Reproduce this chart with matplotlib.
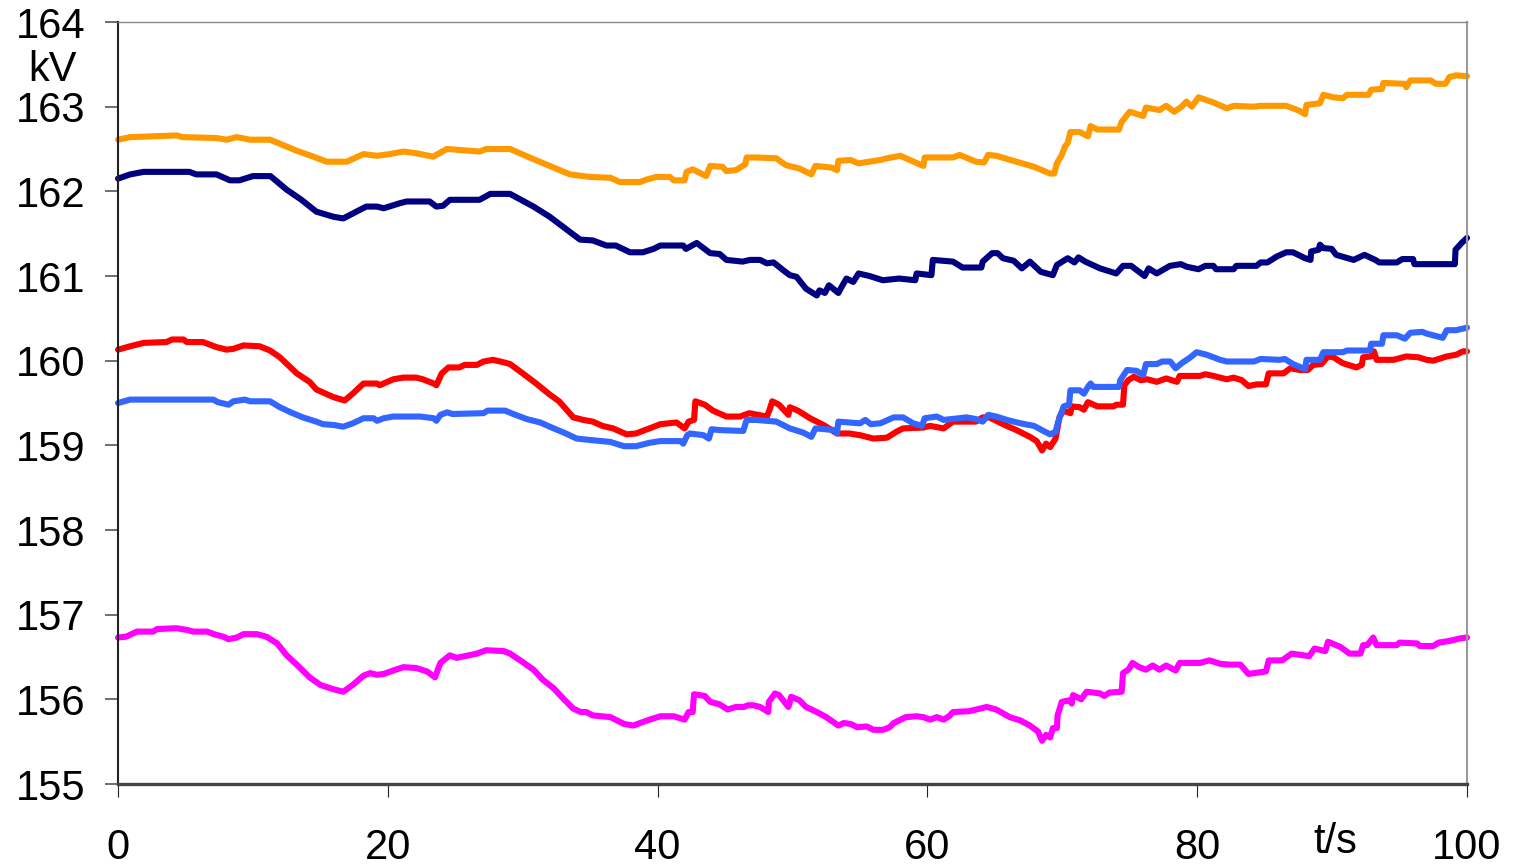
import matplotlib
matplotlib.use("Agg")
import matplotlib.pyplot as plt

# Bus voltage traces (time in s, voltage in kV)
ORANGE_TRACE = [(0,162.61),(0.9,162.64),(4.35,162.66),(4.8,162.64),(7.3,162.63),(8.05,162.61),(8.8,162.64),(9.78,162.61),(11.27,162.61),(13.24,162.48),(14.48,162.41),(15.47,162.35),(16.95,162.35),(18.2,162.44),(19.2,162.42),(20.16,162.44),(21.15,162.47),(22.1,162.45),(23.37,162.41),(24.37,162.50),(26.8,162.47),(27.3,162.50),(29.06,162.50),(30.8,162.38),(32.0,162.30),(33.5,162.20),(34.97,162.17),(36.5,162.16),(37.2,162.11),(38.7,162.11),(39.2,162.14),(39.9,162.17),(40.9,162.17),(41.2,162.13),(42.0,162.13),(42.15,162.23),(42.6,162.26),(43.6,162.18),(43.9,162.30),(44.8,162.29),(45.1,162.24),(45.8,162.25),(46.2,162.29),(46.5,162.32),(46.6,162.40),(47.3,162.40),(48.8,162.39),(49.5,162.31),(50.5,162.27),(51.4,162.20),(51.7,162.30),(52.9,162.28),(53.3,162.25),(53.4,162.36),(54.3,162.37),(54.9,162.33),(56.5,162.37),(57.0,162.39),(58.0,162.42),(58.7,162.37),(59.7,162.30),(59.8,162.40),(61.9,162.40),(62.4,162.43),(63.6,162.35),(64.2,162.34),(64.5,162.43),(65.1,162.42),(66.6,162.35),(67.9,162.29),(69.1,162.21),(69.4,162.21),(69.6,162.33),(69.96,162.43),(70.2,162.53),(70.4,162.57),(70.6,162.70),(71.3,162.70),(71.9,162.65),(72.1,162.77),(72.6,162.73),(74.2,162.73),(74.4,162.82),(75.0,162.94),(76.0,162.89),(76.2,162.99),(77.2,162.96),(77.7,163.01),(78.3,162.94),(78.85,163.00),(79.2,163.06),(79.6,163.00),(80.1,163.11),(81.2,163.05),(82.2,162.98),(82.7,163.01),(84.2,163.00),(84.7,163.01),(86.6,163.01),(87.6,162.95),(88.0,162.91),(88.1,163.02),(89.1,163.04),(89.35,163.14),(90.1,163.11),(90.8,163.10),(91.1,163.14),(92.7,163.14),(92.9,163.20),(93.7,163.21),(93.8,163.28),(95.4,163.27),(95.5,163.23),(95.8,163.31),(97.3,163.31),(97.7,163.27),(98.4,163.27),(98.7,163.35),(99.2,163.37),(100,163.36)]

NAVY_TRACE = [(0,162.15),(0.9,162.20),(1.9,162.23),(5.3,162.23),(5.8,162.20),(7.3,162.20),(8.3,162.13),(9.0,162.13),(10.0,162.18),(11.3,162.18),(12.5,162.02),(13.6,161.90),(14.7,161.76),(15.96,161.70),(16.7,161.68),(18.4,161.82),(19.2,161.82),(19.7,161.80),(20.9,161.86),(21.4,161.88),(23.1,161.88),(23.6,161.82),(24.1,161.83),(24.6,161.90),(26.8,161.90),(27.6,161.97),(29.06,161.97),(30.8,161.82),(32.0,161.70),(33.0,161.58),(34.25,161.43),(35.2,161.42),(36.2,161.36),(36.9,161.36),(37.95,161.28),(38.9,161.28),(39.7,161.32),(40.2,161.36),(41.9,161.36),(42.1,161.32),(42.9,161.39),(43.9,161.27),(44.6,161.26),(45.1,161.19),(46.3,161.17),(46.85,161.19),(47.6,161.19),(48.1,161.15),(48.6,161.16),(49.3,161.07),(49.8,161.01),(50.3,160.99),(51.0,160.85),(51.8,160.77),(52.0,160.83),(52.4,160.80),(52.7,160.89),(53.4,160.80),(53.6,160.86),(54.0,160.97),(54.5,160.93),(54.9,161.03),(55.7,161.00),(56.7,160.95),(57.9,160.97),(59.1,160.95),(59.2,161.03),(60.3,161.01),(60.4,161.19),(61.9,161.17),(62.6,161.10),(64.0,161.10),(64.1,161.17),(64.8,161.27),(65.2,161.27),(65.6,161.21),(66.4,161.18),(67.0,161.09),(67.6,161.17),(68.4,161.05),(69.3,161.01),(69.6,161.13),(70.4,161.21),(70.9,161.16),(71.2,161.22),(71.7,161.17),(72.8,161.09),(74.0,161.03),(74.5,161.12),(75.1,161.12),(76.1,161.00),(76.4,161.09),(77.0,161.03),(77.98,161.12),(78.8,161.14),(79.2,161.11),(80.1,161.08),(80.6,161.12),(81.2,161.12),(81.4,161.08),(82.7,161.08),(82.9,161.12),(84.4,161.12),(84.7,161.16),(85.2,161.16),(85.9,161.23),(86.6,161.28),(87.1,161.28),(88.0,161.21),(88.4,161.19),(88.45,161.29),(89.0,161.31),(89.1,161.37),(89.35,161.33),(89.97,161.32),(90.3,161.25),(91.6,161.19),(92.4,161.25),(93.2,161.19),(93.5,161.16),(94.8,161.16),(95.2,161.20),(96.0,161.20),(96.1,161.14),(99.1,161.14),(99.15,161.31),(99.6,161.39),(100,161.45)]

RED_TRACE = [(0,160.13),(0.9,160.17),(1.9,160.21),(3.6,160.22),(4.0,160.25),(4.85,160.25),(5.1,160.22),(6.3,160.22),(7.3,160.16),(8.05,160.13),(8.55,160.14),(9.3,160.18),(10.5,160.17),(11.27,160.12),(12.0,160.04),(13.25,159.85),(14.2,159.75),(14.7,159.66),(15.96,159.57),(16.8,159.53),(17.4,159.61),(18.2,159.73),(19.2,159.73),(19.4,159.71),(20.4,159.78),(21.15,159.80),(22.1,159.80),(22.6,159.78),(23.4,159.73),(23.6,159.71),(24.0,159.85),(24.5,159.92),(25.3,159.92),(25.7,159.95),(26.6,159.95),(27.1,159.99),(27.8,160.01),(28.6,159.98),(29.06,159.96),(30.0,159.85),(31.0,159.73),(32.0,159.60),(32.7,159.52),(33.75,159.33),(34.5,159.30),(35.2,159.28),(35.9,159.23),(36.7,159.20),(37.7,159.13),(38.4,159.14),(39.4,159.20),(40.2,159.25),(41.4,159.27),(42.0,159.20),(42.3,159.28),(42.7,159.30),(42.8,159.52),(43.5,159.48),(44.1,159.41),(45.1,159.34),(46.1,159.34),(46.8,159.38),(48.1,159.34),(48.3,159.42),(48.5,159.52),(49.0,159.48),(49.7,159.36),(49.8,159.45),(50.4,159.41),(51.3,159.32),(52.3,159.24),(53.3,159.14),(54.2,159.14),(55.0,159.12),(56.0,159.08),(57.0,159.09),(57.7,159.16),(58.2,159.20),(59.7,159.21),(60.2,159.23),(61.2,159.20),(61.9,159.28),(63.6,159.28),(64.1,159.33),(64.6,159.33),(65.6,159.25),(66.6,159.18),(67.6,159.10),(68.1,159.05),(68.5,158.94),(68.8,159.02),(69.1,158.98),(69.5,159.08),(69.8,159.34),(70.1,159.41),(70.6,159.38),(70.7,159.46),(71.3,159.45),(71.6,159.42),(71.9,159.51),(72.6,159.46),(73.8,159.46),(74.0,159.48),(74.5,159.48),(74.6,159.71),(74.9,159.77),(75.3,159.81),(75.8,159.77),(76.3,159.78),(77.0,159.75),(77.7,159.79),(78.5,159.75),(78.7,159.82),(80.2,159.82),(80.6,159.84),(81.2,159.82),(82.2,159.78),(82.7,159.80),(83.3,159.77),(83.8,159.70),(84.4,159.72),(85.1,159.72),(85.3,159.85),(86.4,159.85),(86.9,159.91),(87.6,159.89),(88.2,159.89),(88.6,159.95),(89.2,159.96),(89.7,160.05),(90.1,160.04),(90.8,159.97),(91.8,159.92),(92.2,159.95),(92.3,160.04),(92.9,160.05),(93.1,160.11),(93.3,160.01),(94.55,160.01),(95.5,160.05),(96.4,160.04),(97.0,160.01),(97.5,160.00),(98.5,160.05),(99.2,160.07),(99.7,160.11),(100,160.11)]

BLUE_TRACE = [(0,159.50),(0.9,159.54),(7.06,159.54),(7.4,159.51),(8.2,159.48),(8.55,159.52),(9.4,159.54),(9.8,159.52),(11.27,159.52),(12.0,159.45),(12.8,159.39),(13.7,159.33),(14.7,159.28),(15.2,159.25),(16.0,159.24),(16.7,159.22),(17.4,159.26),(18.2,159.32),(18.95,159.32),(19.2,159.29),(19.7,159.32),(20.4,159.34),(22.4,159.34),(23.4,159.32),(23.6,159.29),(23.9,159.36),(24.4,159.39),(24.8,159.37),(27.1,159.38),(27.4,159.41),(28.7,159.41),(29.3,159.37),(30.3,159.31),(31.3,159.27),(32.3,159.20),(33.2,159.14),(34.0,159.08),(35.2,159.06),(36.5,159.04),(37.5,158.99),(38.4,158.99),(39.4,159.03),(40.2,159.05),(41.7,159.05),(41.9,159.02),(42.2,159.12),(42.4,159.14),(43.4,159.12),(43.8,159.08),(44.0,159.19),(44.6,159.18),(46.35,159.17),(46.6,159.30),(47.3,159.30),(48.8,159.28),(49.8,159.20),(50.8,159.15),(51.4,159.10),(51.7,159.20),(53.15,159.18),(53.3,159.14),(53.4,159.28),(55.0,159.26),(55.4,159.30),(55.8,159.25),(56.5,159.26),(57.5,159.33),(58.2,159.33),(58.95,159.26),(59.6,159.23),(59.8,159.32),(60.7,159.34),(61.2,159.30),(62.9,159.33),(63.6,159.31),(64.1,159.28),(64.5,159.36),(65.1,159.34),(65.9,159.30),(66.9,159.26),(67.9,159.23),(68.6,159.17),(69.1,159.13),(69.5,159.16),(69.7,159.28),(70.1,159.46),(70.5,159.48),(70.6,159.65),(71.3,159.65),(71.6,159.61),(71.9,159.69),(72.1,159.73),(72.3,159.69),(74.2,159.69),(74.3,159.77),(74.8,159.89),(75.5,159.88),(76.0,159.83),(76.2,159.96),(77.0,159.96),(77.4,159.99),(78.0,159.99),(78.4,159.91),(78.85,159.97),(79.5,160.04),(79.96,160.10),(80.7,160.07),(81.7,160.01),(82.2,159.99),(84.2,159.99),(84.7,160.02),(86.1,160.01),(86.5,160.02),(87.1,159.96),(88.0,159.90),(88.1,160.01),(89.1,160.01),(89.35,160.10),(90.8,160.10),(91.1,160.12),(92.8,160.12),(92.9,160.20),(93.7,160.20),(93.8,160.30),(94.8,160.30),(95.4,160.26),(95.8,160.33),(96.7,160.34),(97.0,160.32),(98.2,160.27),(98.5,160.36),(99.2,160.36),(100,160.39)]

MAGENTA_TRACE = [(0,156.73),(0.6,156.74),(1.4,156.80),(2.6,156.80),(2.9,156.83),(4.35,156.84),(5.1,156.82),(5.6,156.80),(6.6,156.80),(7.1,156.77),(7.8,156.74),(8.2,156.71),(8.8,156.73),(9.3,156.77),(10.3,156.77),(11.0,156.74),(11.8,156.66),(12.5,156.52),(13.25,156.41),(14.2,156.26),(15.0,156.17),(15.96,156.12),(16.7,156.09),(17.4,156.17),(18.2,156.28),(18.7,156.31),(19.2,156.29),(19.7,156.30),(20.4,156.34),(21.15,156.38),(22.1,156.37),(22.9,156.33),(23.5,156.26),(23.9,156.43),(24.6,156.52),(25.1,156.49),(25.7,156.51),(26.6,156.54),(27.3,156.58),(28.6,156.57),(29.06,156.54),(30.0,156.44),(30.8,156.35),(31.5,156.23),(32.3,156.13),(33.0,156.01),(33.75,155.89),(34.3,155.85),(34.7,155.85),(35.2,155.81),(36.5,155.79),(37.5,155.71),(38.2,155.69),(38.7,155.72),(39.4,155.76),(40.2,155.80),(41.2,155.80),(42.0,155.76),(42.3,155.85),(42.6,155.85),(42.7,156.06),(43.5,156.04),(43.9,155.97),(44.6,155.94),(45.2,155.88),(45.8,155.91),(46.4,155.91),(46.7,155.93),(47.1,155.93),(47.6,155.91),(48.2,155.85),(48.25,155.97),(48.7,156.07),(49.0,156.05),(49.7,155.91),(49.9,156.03),(50.5,155.99),(51.0,155.91),(51.8,155.85),(52.5,155.79),(53.4,155.69),(53.8,155.72),(54.3,155.71),(54.8,155.67),(55.5,155.68),(56.0,155.64),(56.7,155.64),(57.2,155.67),(57.5,155.72),(58.4,155.79),(59.2,155.80),(59.7,155.79),(60.2,155.76),(60.7,155.79),(61.2,155.76),(61.6,155.80),(61.9,155.85),(63.1,155.86),(64.4,155.91),(65.1,155.88),(66.1,155.79),(66.9,155.75),(67.6,155.69),(68.2,155.62),(68.5,155.51),(68.8,155.58),(69.1,155.55),(69.3,155.66),(69.6,155.66),(69.65,155.81),(69.96,155.97),(70.6,155.99),(70.7,155.95),(70.8,156.05),(71.4,156.00),(71.8,156.09),(72.8,156.07),(73.1,156.04),(73.5,156.08),(74.4,156.09),(74.5,156.31),(74.9,156.35),(75.2,156.43),(75.7,156.38),(76.2,156.35),(76.7,156.40),(77.2,156.35),(77.7,156.40),(78.4,156.34),(78.7,156.43),(80.2,156.43),(80.9,156.46),(81.7,156.42),(82.4,156.41),(83.2,156.41),(83.8,156.30),(85.1,156.33),(85.3,156.46),(86.3,156.46),(87.0,156.54),(88.3,156.51),(88.7,156.60),(89.5,156.57),(89.7,156.68),(90.6,156.62),(91.3,156.54),(92.1,156.54),(92.3,156.64),(92.6,156.64),(93.05,156.73),(93.3,156.64),(94.8,156.64),(95.0,156.67),(96.3,156.66),(96.5,156.63),(97.5,156.63),(97.9,156.67),(98.7,156.69),(99.5,156.72),(100,156.73)]

X_TICKS = [0, 20, 40, 60, 80, 100]
Y_TICKS = [155, 156, 157, 158, 159, 160, 161, 162, 163, 164]

SERIES = [
    (ORANGE_TRACE, "#FF9900"),
    (NAVY_TRACE, "#000080"),
    (RED_TRACE, "#FF0000"),
    (BLUE_TRACE, "#3366FF"),
    (MAGENTA_TRACE, "#FF00FF"),
]

plt.rcParams["font.family"] = ["Liberation Sans", "DejaVu Sans"]

fig = plt.figure(figsize=(15.13, 8.67), dpi=100)
ax = fig.add_axes([118 / 1513, 83 / 867, 1349 / 1513, 762 / 867])

for trace, color in SERIES:
    t = [p[0] for p in trace]
    v = [p[1] for p in trace]
    ax.plot(t, v, color=color, lw=4.4, solid_joinstyle="round",
            solid_capstyle="round", clip_on=False)

ax.set_xlim(0, 100)
ax.set_ylim(155, 164)
ax.set_xticks(X_TICKS)
ax.set_yticks(Y_TICKS)
ax.set_xticklabels([str(x) for x in X_TICKS])
ax.set_yticklabels([str(y) for y in Y_TICKS])

ax.tick_params(axis="y", direction="out", length=9.5, width=1.2, color="#555555",
               labelsize=30, pad=14)
ax.tick_params(axis="x", direction="out", length=9.5, width=0.8, color="#222222",
               labelsize=30, pad=22)

ax.spines["left"].set_color("#222222")
ax.spines["left"].set_linewidth(1.5)
ax.spines["bottom"].set_color("#444444")
ax.spines["bottom"].set_linewidth(2.4)
ax.spines["top"].set_color("#888888")
ax.spines["top"].set_linewidth(1.0)
ax.spines["right"].set_color("#999999")
ax.spines["right"].set_linewidth(1.5)

fig.text(52 / 1513, 1 - 70 / 867, "kV", fontsize=30, ha="center", va="center")
fig.text(1335 / 1513, 1 - 842 / 867, "t/s", fontsize=30, ha="center", va="center")

fig.savefig("out.png", dpi=100)
